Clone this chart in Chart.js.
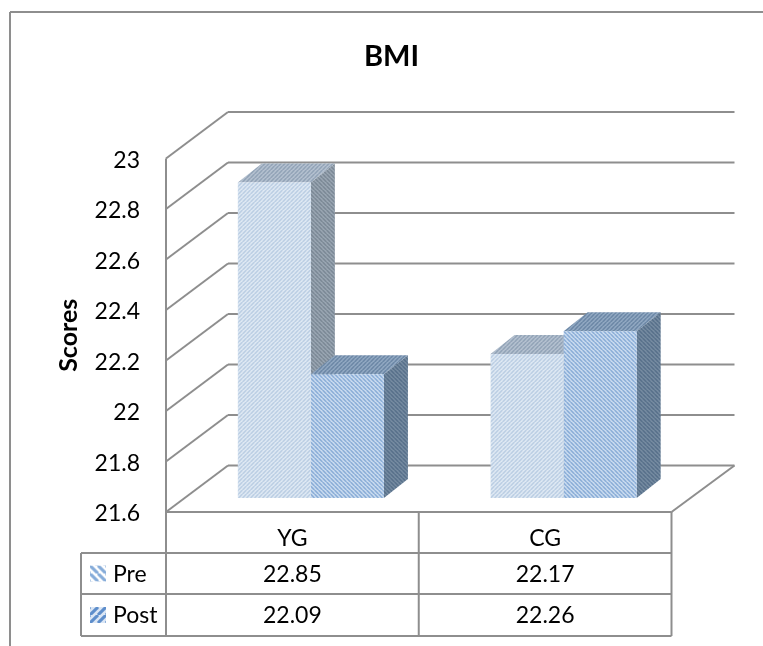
<!DOCTYPE html>
<html lang="en">
<head>
    <meta charset="UTF-8">
    <title>BMI</title>
    <script src="https://cdn.jsdelivr.net/npm/chart.js"></script>
    <style>
        body { margin: 0; background: #fff; }
        canvas { display: block; }
    </style>
</head>
<body>
<canvas id="bmiChart" width="763" height="646"></canvas>

<script>
    const categories = ['YG', 'CG'];
    const seriesNames = ['Pre', 'Post'];
    const preValues = [22.85, 22.17];
    const postValues = [22.09, 22.26];
    const preLabels = ['22.85', '22.17'];
    const postLabels = ['22.09', '22.26'];
    const yTicks = [21.6, 21.8, 22, 22.2, 22.4, 22.6, 22.8, 23];

    const FONT = 'Lato, sans-serif';
    const LINE = '#8e8e8e';

    // depth of the fake 3D box and of the bars
    const WALL_DX = 62, WALL_DY = 46.5;
    const BAR_SHIFT_X = 18.5, BAR_SHIFT_Y = 14;
    const BAR_DX = 24, BAR_DY = 19;

    // table under the plot
    const TABLE_LEFT = 81, ROW_TOPS = [553, 594, 636];

    // small diagonal hatch tile, dir 1 = "/" and -1 = "\"
    function hatch(bg, fg, dir, size) {
        const c = document.createElement('canvas');
        c.width = c.height = size;
        const g = c.getContext('2d');
        g.fillStyle = bg;
        g.fillRect(0, 0, size, size);
        g.strokeStyle = fg;
        g.lineWidth = size * 0.38;
        for (let i = -size; i <= size * 2; i += size) {
            g.beginPath();
            if (dir > 0) { g.moveTo(i, size); g.lineTo(i + size, 0); }
            else { g.moveTo(i, 0); g.lineTo(i + size, size); }
            g.stroke();
        }
        return g.createPattern(c, 'repeat');
    }

    const ctx = document.getElementById('bmiChart').getContext('2d');

    const faces = [
        {
            front: hatch('#e6eef7', '#b3c8e0', 1, 4),
            top: hatch('#bcc8d5', '#8a9cb1', 1, 4),
            side: hatch('#a0acb9', '#74828f', -1, 4),
            swatch: hatch('#ffffff', '#86acd9', -1, 8)
        },
        {
            front: hatch('#d9e6f5', '#7ba2d1', -1, 4),
            top: hatch('#9ab0c8', '#627f9f', 1, 4),
            side: hatch('#7d91a6', '#506a85', -1, 4),
            swatch: hatch('#dbe6f4', '#5e8ecb', 1, 8)
        }
    ];

    function poly(g, pts, fill) {
        g.beginPath();
        pts.forEach((p, i) => i ? g.lineTo(p[0], p[1]) : g.moveTo(p[0], p[1]));
        g.closePath();
        g.fillStyle = fill;
        g.fill();
    }

    function seg(g, x1, y1, x2, y2, w) {
        g.beginPath();
        g.moveTo(x1, y1);
        g.lineTo(x2, y2);
        g.lineWidth = w;
        g.strokeStyle = LINE;
        g.stroke();
    }

    const box3d = {
        id: 'box3d',
        beforeDatasetsDraw(chart) {
            const g = chart.ctx, y = chart.scales.y, x = chart.scales.x;

            // outer frame, open on the right and at the bottom
            g.save();
            seg(g, 10, 12, 763, 12, 2);
            seg(g, 10, 12, 10, 646, 2);

            // back wall and side wall grid
            yTicks.forEach(v => {
                const py = y.getPixelForValue(v);
                seg(g, x.left, py, x.left + WALL_DX, py - WALL_DY, 2);
                seg(g, x.left + WALL_DX, py - WALL_DY, x.right + WALL_DX + 1, py - WALL_DY, 2);
            });
            // floor edges and front axis
            seg(g, x.right, y.bottom, x.right + WALL_DX + 1, y.bottom - WALL_DY, 2);
            seg(g, x.left, y.top, x.left, y.bottom, 2);
            seg(g, x.left, y.bottom, x.right, y.bottom, 2);

            // bars sit part way into the box
            g.translate(BAR_SHIFT_X, -BAR_SHIFT_Y);
            [0, 1].forEach(d => {
                chart.getDatasetMeta(d).data.forEach(bar => {
                    const l = bar.x - bar.width / 2, r = bar.x + bar.width / 2;
                    poly(g, [[l, bar.y], [r, bar.y], [r + BAR_DX, bar.y - BAR_DY], [l + BAR_DX, bar.y - BAR_DY]], faces[d].top);
                    poly(g, [[r, bar.y], [r + BAR_DX, bar.y - BAR_DY], [r + BAR_DX, y.bottom - BAR_DY], [r, y.bottom]], faces[d].side);
                });
            });
            // front faces are drawn by the library inside this shift
        },
        afterDatasetsDraw(chart) {
            chart.ctx.restore();
        },
        afterDraw(chart) {
            const g = chart.ctx, x = chart.scales.x, y = chart.scales.y;
            const colW = (x.right - x.left) / categories.length;
            const bottom = ROW_TOPS[2];

            g.save();
            // table grid
            ROW_TOPS.forEach(t => seg(g, TABLE_LEFT, t, x.right, t, 2));
            seg(g, TABLE_LEFT, ROW_TOPS[0], TABLE_LEFT, bottom, 2);
            seg(g, x.left, y.bottom, x.left, bottom, 2);
            for (let i = 1; i <= categories.length; i++) {
                seg(g, x.left + colW * i, y.bottom, x.left + colW * i, bottom, 2);
            }

            // rows: legend key, name, values
            g.font = '23px ' + FONT;
            g.fillStyle = '#000';
            g.textBaseline = 'middle';
            [preLabels, postLabels].forEach((labels, r) => {
                const mid = (ROW_TOPS[r] + ROW_TOPS[r + 1]) / 2;
                g.save();
                g.translate(90, mid - 8);
                g.fillStyle = faces[r].swatch;
                g.fillRect(0, 0, 16, 16);
                g.restore();
                g.textAlign = 'left';
                g.fillText(seriesNames[r], 113, mid + 1);
                g.textAlign = 'center';
                labels.forEach((t, c) => g.fillText(t, x.getPixelForTick(c), mid + 1));
            });
            g.restore();
        }
    };

    new Chart(ctx, {
        type: 'bar',
        data: {
            labels: categories,
            datasets: [
                { label: seriesNames[0], data: preValues, backgroundColor: faces[0].front, borderWidth: 0 },
                { label: seriesNames[1], data: postValues, backgroundColor: faces[1].front, borderWidth: 0 }
            ]
        },
        options: {
            responsive: false,
            animation: false,
            layout: { padding: { left: 20 } },
            categoryPercentage: 0.578,
            barPercentage: 1,
            plugins: {
                legend: { display: false },
                tooltip: { enabled: false },
                title: {
                    display: true,
                    text: 'BMI',
                    color: '#000',
                    font: { family: FONT, size: 29, weight: 'bold' },
                    padding: { top: 39, bottom: 84.7 }
                }
            },
            scales: {
                x: {
                    afterFit: s => { s.height = 134; },
                    grid: { display: false },
                    border: { display: false },
                    ticks: { color: '#000', padding: 5, font: { family: FONT, size: 23 } }
                },
                y: {
                    min: 21.6,
                    max: 23,
                    afterFit: s => { s.width = 146; },
                    afterBuildTicks: s => { s.ticks = yTicks.map(v => ({ value: v })); },
                    grid: { display: false, drawTicks: false },
                    border: { display: false },
                    ticks: {
                        color: '#000',
                        padding: 26,
                        labelOffset: 2,
                        font: { family: FONT, size: 23 },
                        callback: v => String(v)
                    },
                    title: {
                        display: true,
                        text: 'Scores',
                        color: '#000',
                        font: { family: FONT, size: 25, weight: 'bold' },
                        padding: { top: 34, bottom: 0 }
                    }
                },
                // empty axis, keeps the plot clear of the right margin
                spacer: {
                    position: 'right',
                    afterFit: s => { s.width = 91.5; },
                    grid: { display: false },
                    border: { display: false },
                    ticks: { display: false }
                }
            }
        },
        plugins: [box3d]
    });
</script>
</body>
</html>
